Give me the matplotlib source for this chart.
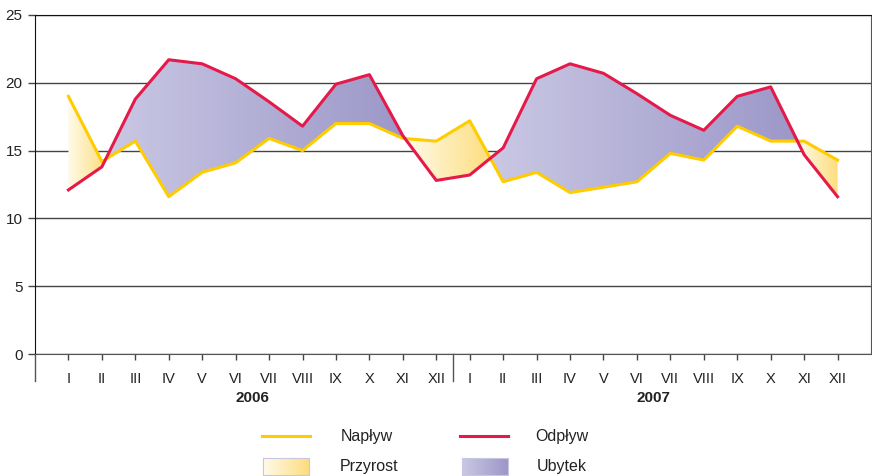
import numpy as np
import matplotlib
matplotlib.use("Agg")
from matplotlib import pyplot as plt
from matplotlib.colors import LinearSegmentedColormap
from matplotlib.patches import PathPatch
from matplotlib.lines import Line2D

plt.rcParams['font.family'] = ['Liberation Sans', 'DejaVu Sans']

miesiace = ['I', 'II', 'III', 'IV', 'V', 'VI', 'VII', 'VIII', 'IX', 'X', 'XI', 'XII']
lata = ['2006', '2007']

naplyw = [19.0, 14.2, 15.7, 11.6, 13.4, 14.1, 15.9, 15.0, 17.0, 17.0, 15.9, 15.7,
          17.2, 12.7, 13.4, 11.9, 12.3, 12.7, 14.8, 14.3, 16.8, 15.7, 15.7, 14.3]
odplyw = [12.1, 13.8, 18.8, 21.7, 21.4, 20.3, 18.6, 16.8, 19.9, 20.6, 16.1, 12.8,
          13.2, 15.2, 20.3, 21.4, 20.7, 19.2, 17.6, 16.5, 19.0, 19.7, 14.7, 11.6]

c_naplyw = '#FFCC00'
c_odplyw = '#E5194A'
cm_przyrost = LinearSegmentedColormap.from_list('przyrost', ['#FFFBEA', '#FDDD7E'])
cm_ubytek = LinearSegmentedColormap.from_list('ubytek', ['#CAC8E4', '#9C97C8'])

x = np.arange(1, len(naplyw) + 1)
n = np.array(naplyw)
o = np.array(odplyw)

fig = plt.figure(figsize=(8.72, 4.76), dpi=100)
ax = fig.add_axes([35 / 872, 1 - 354 / 476, 836 / 872, 339 / 476])

grad = np.linspace(0, 1, 256).reshape(1, -1)


def gradient_fill(where, cmap):
    coll = ax.fill_between(x, n, o, where=where, interpolate=True, facecolor='none', edgecolor='none')
    for p in coll.get_paths():
        bb = p.get_extents()
        im = ax.imshow(grad, cmap=cmap, aspect='auto', zorder=1,
                       extent=[bb.x0, bb.x1, bb.y0, bb.y1], interpolation='bicubic')
        patch = PathPatch(p, transform=ax.transData, facecolor='none', edgecolor='none')
        ax.add_patch(patch)
        im.set_clip_path(patch)


gradient_fill(n >= o, cm_przyrost)
gradient_fill(o >= n, cm_ubytek)

ax.plot(x, n, color=c_naplyw, lw=2.2, zorder=3)
ax.plot(x, o, color=c_odplyw, lw=2.2, zorder=3)

ax.set_xlim(0, 25)
ax.set_ylim(0, 25)
ax.set_yticks(range(0, 26, 5))
ax.set_axisbelow(True)
ax.yaxis.grid(True, color='#444444', lw=1)
ax.tick_params(axis='y', length=5, width=1, color='#444444', labelsize=11, pad=4,
               labelcolor='#222222')
ax.set_xticks(x)
ax.set_xticklabels(miesiace * 2)
ax.tick_params(axis='x', length=4, width=1, color='#444444', labelsize=10.5, pad=9,
               labelcolor='#222222')
for s in ['left', 'top']:
    ax.spines[s].set_color('#111111')
ax.spines['right'].set_color('#555555')
ax.spines['bottom'].set_color('#555555')

# linie pod osia
tr = ax.get_xaxis_transform()
for xv in [0, 12.5]:
    ax.plot([xv, xv], [0, -27 / 339], transform=tr, color='#555555', lw=1, clip_on=False)

for i, rok in enumerate(lata):
    ax.text(6.5 + 12 * i, -44 / 339, rok, transform=tr, ha='center', va='center',
            fontsize=11, fontweight='bold', color='#222222')

# legenda
def fx(px):
    return px / 872


def fy(py):
    return 1 - py / 476


fig.add_artist(Line2D([fx(262), fx(310)], [fy(436), fy(436)], color=c_naplyw, lw=2.2))
fig.add_artist(Line2D([fx(460), fx(508)], [fy(436), fy(436)], color=c_odplyw, lw=2.2))
fig.text(fx(341), fy(437), 'Napływ', fontsize=11.5, va='center', color='#222222')
fig.text(fx(535), fy(437), 'Odpływ', fontsize=11.5, va='center', color='#222222')

for x0, cmap, label, tx in [(263, cm_przyrost, 'Przyrost', 340), (462, cm_ubytek, 'Ubytek', 537)]:
    lax = fig.add_axes([fx(x0), fy(475), 46 / 872, 17 / 476])
    lax.imshow(grad, cmap=cmap, aspect='auto')
    lax.set_xticks([])
    lax.set_yticks([])
    for s in lax.spines.values():
        s.set_color('#C8C6E0')
    fig.text(fx(tx), fy(466), label, fontsize=11.5, va='center', color='#222222')

fig.savefig('out.png', dpi=100)
